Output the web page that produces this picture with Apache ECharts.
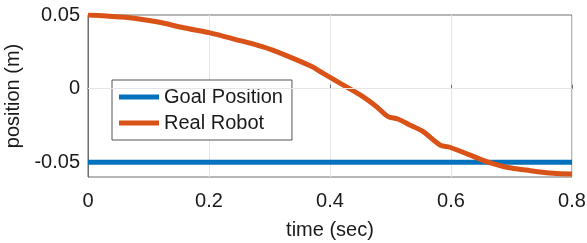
<!DOCTYPE html>
<html lang="en">
<head>
    <meta charset="UTF-8">
    <title>position vs time</title>
    <script src="https://cdn.jsdelivr.net/npm/echarts@6/dist/echarts.min.js"></script>
</head>
<body style="margin: 0; background: #fff;">
<div id="main" style="width: 587px; height: 243px;"></div>
</body>
<script>
    // 数据
    var timeTicks = [0, 0.2, 0.4, 0.6, 0.8]
    var posTicks = [-0.05, 0, 0.05]
    var goalTime = [0, 0.8]
    var goalPos = [-0.05, -0.05]
    var robotTime = [0, 0.03, 0.061, 0.09, 0.116, 0.16, 0.2, 0.243, 0.288, 0.326, 0.37, 0.383, 0.403, 0.417,
        0.45, 0.477, 0.496, 0.512, 0.532, 0.554, 0.582, 0.598, 0.631, 0.659, 0.692, 0.731, 0.769, 0.8]
    var robotPos = [0.0500, 0.0494, 0.0484, 0.0470, 0.0452, 0.0412, 0.0380, 0.0335, 0.0285, 0.0228, 0.0150, 0.0118, 0.0070, 0.0036,
        -0.0043, -0.0123, -0.0190, -0.0206, -0.0247, -0.0292, -0.0383, -0.0398, -0.0450, -0.0496, -0.0534, -0.0557, -0.0575, -0.0580]

    function pairs(xs, ys) {
        return xs.map(function (x, i) { return [x, ys[i]] })
    }

    var myChart = echarts.init(document.getElementById('main'))
    var font = 'Liberation Sans, Arial, sans-serif'
    var option = {
        animation: false,
        grid: {
            left: 88, right: 15, top: 15, bottom: 66,
            outerBoundsMode: 'none',
            show: true,
            borderColor: '#6e6e6e',
            borderWidth: 1
        },
        legend: {
            orient: 'vertical',
            left: 112,
            top: 80,
            padding: [7, 9, 7, 7],
            itemGap: 6,
            itemWidth: 40,
            itemHeight: 5,
            icon: 'rect',
            backgroundColor: '#fff',
            borderColor: '#555',
            borderWidth: 1,
            textStyle: { fontFamily: font, fontSize: 20, color: '#1a1a1a' },
            data: ['Goal Position', 'Real Robot']
        },
        xAxis: {
            type: 'value',
            min: 0,
            max: 0.8,
            interval: 0.2,
            name: 'time (sec)',
            nameLocation: 'middle',
            nameGap: 43,
            nameTextStyle: { fontFamily: font, fontSize: 20, color: '#1a1a1a' },
            axisLine: { show: true, lineStyle: { color: '#6e6e6e' } },
            axisTick: { show: true, inside: true, length: 4, lineStyle: { color: '#6e6e6e' } },
            axisLabel: {
                fontFamily: font, fontSize: 20, color: '#1a1a1a', margin: 14,
                formatter: function (v) { return timeTicks.indexOf(+v.toFixed(1)) >= 0 ? String(+v.toFixed(1)) : '' }
            },
            splitLine: { show: true, lineStyle: { color: '#e6e6e6' } }
        },
        yAxis: {
            type: 'value',
            min: -0.06,
            max: 0.05,
            name: 'position (m)',
            nameLocation: 'middle',
            nameGap: 56,
            nameTextStyle: { fontFamily: font, fontSize: 20, color: '#1a1a1a' },
            axisLine: { show: true, lineStyle: { color: '#6e6e6e' } },
            axisTick: { show: true, inside: true, length: 4, customValues: posTicks, lineStyle: { color: '#6e6e6e' } },
            axisLabel: {
                fontFamily: font, fontSize: 20, color: '#1a1a1a', margin: 8,
                customValues: posTicks,
                formatter: function (v) { return String(+v.toFixed(2)) }
            },
            splitLine: { show: false }
        },
        series: [
            {
                name: 'Goal Position',
                type: 'line',
                showSymbol: false,
                color: '#0072BD',
                lineStyle: { width: 5 },
                data: pairs(goalTime, goalPos),
                markLine: {
                    silent: true,
                    symbol: 'none',
                    label: { show: false },
                    lineStyle: { color: '#e6e6e6', width: 1, type: 'solid' },
                    data: [{ yAxis: 0 }]
                },
                z: 3
            },
            {
                name: 'Real Robot',
                type: 'line',
                showSymbol: false,
                smooth: 0.3,
                color: '#D95319',
                lineStyle: { width: 5 },
                data: pairs(robotTime, robotPos),
                z: 4
            }
        ]
    };
    myChart.setOption(option);
</script>
</html>
